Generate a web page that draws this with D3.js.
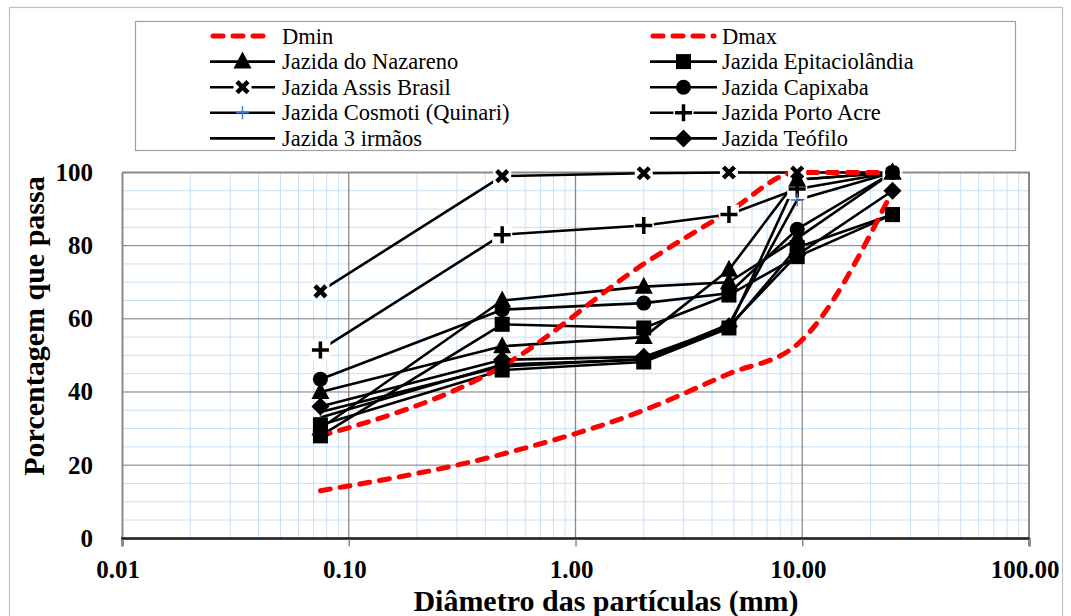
<!DOCTYPE html>
<html>
<head>
<meta charset="utf-8">
<script src="https://cdn.jsdelivr.net/npm/d3@7"></script>
<style>
  html, body { margin: 0; padding: 0; background: #fff; }
  svg { display: block; }
</style>
</head>
<body>
<svg id="chart" width="1071" height="616"></svg>
<script>
// Sieve openings (mm) and percent passing for each deposit
const sieves = [0.075, 0.475, 2.0, 4.75, 9.5, 25];

const dMin = [13, 23, 35, 45, 53, 95];
const dMax = [28, 47, 75, 89.3, 100, 100];

const nazareno        = [30, 65, 68.8, 70, 82, 100];
const nazarenoB       = [40, 52.5, 55, 73.4, 98, 100];
const epitaciolandia  = [28, 58.5, 57.5, 66.5, 77, 88.5];
const epitaciolandiaB = [31, 46, 48.2, 57.5, 79.5, 88.5];
const assisBrasil     = [67.5, 99, 99.8, 100, 100, 100];
const capixaba        = [43.5, 62.5, 64.3, 67, 84.5, 100];
const cosmoti         = [33, 47.5, 48.8, 58.5, 92.5, 100];
const portoAcre       = [51.5, 83, 85.5, 88.5, 95.5, 100];
const tresIrmaos      = [34.5, 47, 49, 57.5, 98, 100];
const teofilo         = [36, 48.8, 49.6, 58, 77.5, 95];

const xTickLabels = ["0.01", "0.10", "1.00", "10.00", "100.00"];
const yTickLabels = ["0", "20", "40", "60", "80", "100"];

const limitSeries = [
  { name: "Dmin", values: dMin },
  { name: "Dmax", values: dMax }
];

// listed in drawing order (later series sit on top)
const soilSeries = [
  { name: "Jazida Porto Acre",         values: portoAcre,       marker: "plus" },
  { name: "Jazida Assis Brasil",       values: assisBrasil,     marker: "x" },
  { name: "Jazida Cosmoti (Quinari)",  values: cosmoti,         marker: "bluePlus" },
  { name: "Jazida 3 irmãos",           values: tresIrmaos,      marker: "none" },
  { name: "Jazida Capixaba",           values: capixaba,        marker: "circle" },
  { name: "Jazida Epitaciolândia",     values: epitaciolandia,  marker: "square" },
  { name: "Jazida Epitaciolândia",     values: epitaciolandiaB, marker: "square", legend: false },
  { name: "Jazida Teófilo",            values: teofilo,         marker: "diamond" },
  { name: "Jazida do Nazareno",        values: nazareno,        marker: "triangle" },
  { name: "Jazida do Nazareno",        values: nazarenoB,       marker: "triangle", legend: false }
];

// Legend layout: two columns, five rows
const legendCol1 = ["Dmin", "Jazida do Nazareno", "Jazida Assis Brasil", "Jazida Cosmoti (Quinari)", "Jazida 3 irmãos"];
const legendCol2 = ["Dmax", "Jazida Epitaciolândia", "Jazida Capixaba", "Jazida Porto Acre", "Jazida Teófilo"];

const SERIF = "'Liberation Serif', 'Times New Roman', Times, serif";

const svg = d3.select("#chart").attr("font-family", SERIF);
const plot = { left: 122, right: 1029, top: 172.5, bottom: 538.3 };

const x = d3.scaleLog().domain([0.01, 100]).range([plot.left, plot.right]);
const y = d3.scaleLinear().domain([0, 100]).range([plot.bottom, plot.top]);

// outer chart frame
svg.append("rect").attr("x", 9.5).attr("y", 7.5).attr("width", 1053).attr("height", 640)
  .attr("fill", "none").attr("stroke", "#c0c0c0").attr("stroke-width", 1.2);

// minor grid
const minorX = [];
[0.01, 0.1, 1, 10].forEach(d => { for (let k = 2; k <= 9; k++) minorX.push(d * k); });
const minorY = d3.range(5, 100, 5).filter(v => v % 20 !== 0);

const grid = svg.append("g");
grid.selectAll(".mx").data(minorX).join("line")
  .attr("x1", d => x(d)).attr("x2", d => x(d)).attr("y1", plot.top).attr("y2", plot.bottom)
  .attr("stroke", "#c6e0f7").attr("stroke-width", 1);
grid.selectAll(".my").data(minorY).join("line")
  .attr("x1", plot.left).attr("x2", plot.right).attr("y1", d => y(d)).attr("y2", d => y(d))
  .attr("stroke", "#c6e0f7").attr("stroke-width", 1);

// major grid
const majorX = [0.1, 1, 10];
const majorY = [20, 40, 60, 80];
grid.selectAll(".MX").data(majorX).join("line")
  .attr("x1", d => x(d)).attr("x2", d => x(d)).attr("y1", plot.top).attr("y2", plot.bottom)
  .attr("stroke", "#8a8a8a").attr("stroke-width", 1.3);
grid.selectAll(".MY").data(majorY).join("line")
  .attr("x1", plot.left).attr("x2", plot.right).attr("y1", d => y(d)).attr("y2", d => y(d))
  .attr("stroke", "#7a7a7a").attr("stroke-width", 1);

// plot border (top, right)
svg.append("path")
  .attr("d", `M${plot.left},${y(100)}H${plot.right}V${plot.bottom}`)
  .attr("fill", "none").attr("stroke", "#8a8a8a").attr("stroke-width", 2);

// axes
const xAxis = d3.axisBottom(x).tickValues([0.01, 0.1, 1, 10, 100]).tickSize(8).tickFormat("");
const gx = svg.append("g").attr("transform", `translate(0,${plot.bottom})`).call(xAxis);
gx.select(".domain").attr("stroke", "#222").attr("stroke-width", 2);
gx.selectAll(".tick line").attr("stroke", "#888").attr("stroke-width", 1.5);

const yAxis = d3.axisLeft(y).tickValues([0, 20, 40, 60, 80, 100]).tickSize(0).tickFormat("");
const gy = svg.append("g").attr("transform", `translate(${plot.left},0)`).call(yAxis);
gy.select(".domain").attr("stroke", "#8a8a8a").attr("stroke-width", 2);
svg.append("line").attr("x1", plot.left - 1).attr("x2", plot.right).attr("y1", plot.bottom).attr("y2", plot.bottom)
  .attr("stroke", "#222").attr("stroke-width", 2);

// tick labels
const xTickVals = [0.01, 0.1, 1, 10, 100];
svg.selectAll(".xl").data(xTickVals).join("text")
  .attr("x", d => x(d) - 4).attr("y", 578)
  .attr("text-anchor", "middle").attr("font-weight", "bold").attr("font-size", 25)
  .attr("font-family", SERIF)
  .text((d, i) => xTickLabels[i]);

const yTickVals = [0, 20, 40, 60, 80, 100];
svg.selectAll(".yl").data(yTickVals).join("text")
  .attr("x", 93).attr("y", d => y(d) + 8.5)
  .attr("text-anchor", "end").attr("font-weight", "bold").attr("font-size", 25)
  .attr("font-family", SERIF)
  .text((d, i) => yTickLabels[i]);

// axis titles
svg.append("text").attr("x", 606).attr("y", 611)
  .attr("text-anchor", "middle").attr("font-weight", "bold").attr("font-size", 30)
  .attr("font-family", SERIF)
  .text("Diâmetro das partículas (mm)");
svg.append("text").attr("transform", "translate(44,326) rotate(-90)")
  .attr("text-anchor", "middle").attr("font-weight", "bold").attr("font-size", 30)
  .attr("font-family", SERIF)
  .text("Porcentagem que passa");

// data lines
const toPoints = vals => sieves.map((s, i) => [s, vals[i]]);
const straight = d3.line().x(d => x(d[0])).y(d => y(d[1]));
const smooth = d3.line().x(d => x(d[0])).y(d => y(d[1])).curve(d3.curveMonotoneX);

const linesG = svg.append("g");
soilSeries.forEach(s => {
  linesG.append("path").attr("d", straight(toPoints(s.values)))
    .attr("fill", "none").attr("stroke", "#000").attr("stroke-width", 2.6)
    .attr("stroke-linejoin", "round");
});
limitSeries.forEach(s => {
  linesG.append("path").attr("d", smooth(toPoints(s.values)))
    .attr("fill", "none").attr("stroke", "#ff0000").attr("stroke-width", 5)
    .attr("stroke-dasharray", "10,10").attr("stroke-linecap", "round");
});

// marker drawing
function drawMarker(g, type, cx, cy) {
  const m = g.append("g").attr("transform", `translate(${cx},${cy})`);
  switch (type) {
    case "triangle":
      m.append("path").attr("d", "M0,-10L9,7L-9,7Z").attr("fill", "#000");
      break;
    case "square":
      m.append("rect").attr("x", -7.5).attr("y", -7.5).attr("width", 15).attr("height", 15).attr("fill", "#000");
      break;
    case "circle":
      m.append("circle").attr("r", 7.5).attr("fill", "#000");
      break;
    case "diamond":
      m.append("path").attr("d", "M0,-9L9,0L0,9L-9,0Z").attr("fill", "#000");
      break;
    case "x":
      m.append("rect").attr("x", -9).attr("y", -9).attr("width", 18).attr("height", 18).attr("fill", "#fff");
      m.append("path").attr("d", "M-5.5,-5.5L5.5,5.5M5.5,-5.5L-5.5,5.5").attr("stroke", "#000").attr("stroke-width", 4.5);
      break;
    case "plus":
      m.append("rect").attr("x", -10).attr("y", -10).attr("width", 20).attr("height", 20).attr("fill", "#fff");
      m.append("path").attr("d", "M-8.5,0H8.5M0,-8.5V8.5").attr("stroke", "#000").attr("stroke-width", 3.5);
      break;
    case "bluePlus":
      m.append("path").attr("d", "M-6.5,0H6.5M0,-6.5V6.5").attr("stroke", "#4472c4").attr("stroke-width", 1.4);
      break;
    default:
      break;
  }
}

const markersG = svg.append("g");
soilSeries.forEach(s => {
  s.values.forEach((v, i) => drawMarker(markersG, s.marker, x(sieves[i]), y(v)));
});

// legend
const legendG = svg.append("g");
legendG.append("rect").attr("x", 135.5).attr("y", 21.5).attr("width", 880).attr("height", 129)
  .attr("fill", "#fff").attr("stroke", "#a0a0a0").attr("stroke-width", 1.2);

const legendRowY = i => 36 + i * 25.6;
function legendEntry(name, i, x0, x1, tx) {
  const yy = legendRowY(i);
  const lim = limitSeries.find(s => s.name === name);
  if (lim) {
    legendG.append("line").attr("x1", x0 + 3).attr("x2", x1 - 3).attr("y1", yy).attr("y2", yy)
      .attr("stroke", "#ff0000").attr("stroke-width", 5)
      .attr("stroke-dasharray", "10,10").attr("stroke-linecap", "round");
  } else {
    const s = soilSeries.find(d => d.name === name && d.legend !== false);
    legendG.append("line").attr("x1", x0).attr("x2", x1).attr("y1", yy).attr("y2", yy)
      .attr("stroke", "#000").attr("stroke-width", 2.6);
    drawMarker(legendG, s.marker, (x0 + x1) / 2, yy);
  }
  legendG.append("text").attr("x", tx).attr("y", yy + 7.5)
    .attr("font-size", 22.5).attr("font-family", SERIF).text(name);
}
legendCol1.forEach((n, i) => legendEntry(n, i, 210, 275, 282));
legendCol2.forEach((n, i) => legendEntry(n, i, 650, 717, 722));
</script>
</body>
</html>
